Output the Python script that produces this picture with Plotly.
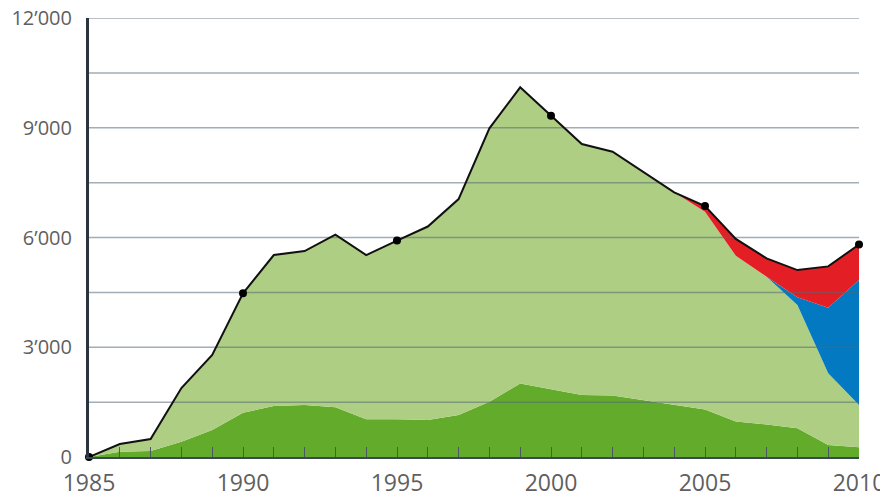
import plotly.graph_objects as go

years = list(range(1985, 2011))

# stacked components
dark_green = [0, 145, 165, 420, 740, 1210, 1395, 1420, 1360, 1030, 1030, 1010, 1150, 1510,
              2010, 1850, 1695, 1680, 1560, 1420, 1300, 970, 890, 785, 330, 265]
light_green = [0, 210, 325, 1465, 2050, 3265, 4125, 4210, 4720, 4490, 4885, 5290, 5900, 7475,
               8095, 7480, 6860, 6665, 6220, 5815, 5405, 4530, 4040, 3370, 1960, 1155]
blue = [0] * 23 + [215, 1790, 3420]
red = [0] * 20 + [155, 460, 500, 740, 1130, 970]

total = [a + b + c + d for a, b, c, d in zip(dark_green, light_green, blue, red)]
marker_years = [1985, 1990, 1995, 2000, 2005, 2010]

y_tick_vals = [0, 3000, 6000, 9000, 12000]
y_tick_text = ["0", "3\u2019000", "6\u2019000", "9\u2019000", "12\u2019000"]
grid_vals = [1500, 3000, 4500, 6000, 7500, 9000, 10500, 12000]

fig = go.Figure()

series = [
    ("dark", dark_green, "#62ab2b"),
    ("light", light_green, "#aece84"),
    ("blue", blue, "#0279c0"),
    ("red", red, "#e31e25"),
]
for name, vals, col in series:
    fig.add_trace(go.Scatter(
        x=years, y=vals, name=name, mode="lines", stackgroup="one",
        line=dict(width=0, color=col), fillcolor=col, hoverinfo="skip",
    ))

# gridlines drawn above the filled areas
gx, gy = [], []
for g in grid_vals:
    gx += [years[0], years[-1], None]
    gy += [g, g, None]
fig.add_trace(go.Scatter(x=gx, y=gy, mode="lines",
                         line=dict(color="rgba(85,105,120,0.55)", width=1.5),
                         hoverinfo="skip", cliponaxis=False))

fig.add_trace(go.Scatter(x=years, y=total, mode="lines",
                         line=dict(color="#111111", width=2),
                         hoverinfo="skip", cliponaxis=False))
fig.add_trace(go.Scatter(x=marker_years, y=[total[years.index(y)] for y in marker_years],
                         mode="markers", marker=dict(color="#000000", size=8),
                         hoverinfo="skip", cliponaxis=False))

# the page adds an 8px body margin, so the figure is sized to fit the window
fig.update_layout(
    width=880, height=495,
    margin=dict(l=81, r=29, t=10, b=46),
    paper_bgcolor="white", plot_bgcolor="white",
    showlegend=False,
    font=dict(family="Open Sans", color="#5f5f5f"),
)
fig.update_xaxes(
    range=[1985, 2010],
    tickvals=years,
    ticktext=[str(y) if y % 5 == 0 else "" for y in years],
    ticks="inside", ticklen=10, tickcolor="#4a5963", tickwidth=1,
    tickfont=dict(size=23, color="#5f5f5f"),
    ticklabelstandoff=4,
    ticklabeloverflow="allow",
    showgrid=False, zeroline=False,
    showline=True, linecolor="#3a4852", linewidth=2,
    layer="above traces",
    automargin=False,
)
fig.update_yaxes(
    range=[0, 12000],
    tickvals=y_tick_vals, ticktext=y_tick_text,
    ticks="", tickfont=dict(size=20, color="#5f5f5f"),
    ticklabelstandoff=10,
    ticklabeloverflow="allow",
    showgrid=False, zeroline=False,
    showline=True, linecolor="#2a3540", linewidth=3,
    layer="above traces",
    automargin=False,
)

fig.write_html("out.html")
